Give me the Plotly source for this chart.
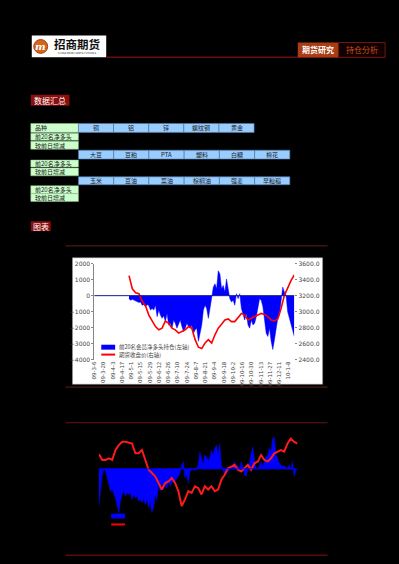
import plotly.graph_objects as go

# ---------------- data ----------------
# chart 1 (net position of top-20 members, left axis; price, right axis)
ticks1 = ["09-3-6", "09-3-20", "09-4-3", "09-4-17", "09-5-1", "09-5-15", "09-5-29",
          "09-6-12", "09-6-26", "09-7-10", "09-7-24", "09-8-7", "09-8-21", "09-9-4",
          "09-9-18", "09-10-2", "09-10-16", "09-10-30", "09-11-13", "09-11-27",
          "09-12-11", "10-1-8"]
net1 = [-185, -288, -226, -288, -350, -391, -432, -391, -597, -556, -700, -556, -638, -905,
        -802, -905, -597, -1317, -905, -1214, -1420, -1255, -1626, -1111, -1831, -1728,
        -2037, -1523, -1728, -2037, -1831, -1523, -1934, -2243, -2037, -1728, -1934, -2037,
        -1872, -2346, -2140, -2037, -2860, -2346, -1831, -905, -597, -802, -1420, -802,
        -185, 535, 741, 432, 1564, 1358, 432, 638, 226, 1049, 432, -185, -391, -288, -597,
        123, -185, 123, -802, -1214, -1523, -1111, -1831, -2037, -1523, -1831, -1728,
        -1317, -597, -185, -288, -700, -1523, -2346, -2551, -2037, -2860, -3374, -2757,
        -1934, -1420, -1214, -391, 535, 226, 21, -1008, -1420, -1831, -2243, -2551]
price1 = [3451, 3286, 3237, 3225, 3130, 3072, 2957, 2875, 2813, 2772, 2793, 2883, 2854,
          2793, 2772, 2731, 2751, 2772, 2813, 2793, 2649, 2554, 2537, 2607, 2649, 2607,
          2710, 2793, 2842, 2895, 2908, 2875, 2875, 2924, 2978, 2957, 2895, 2916, 2937,
          2957, 2978, 2965, 2937, 2895, 2883, 2908, 3040, 3204, 3307, 3389, 3459]

# chart 2
net2 = [-2775, -1302, -442, 0, -196, -688, -1302, -1670, -1424, -1916, -2161, -2652, -3266,
        -2407, -1916, -1670, -2038, -1793, -1916, -1793, -2284, -1916, -2161, -2038, -2407,
        -2284, -2530, -2161, -2652, -2284, -2898, -2407, -3266, -2898, -1916, -2284, -1179,
        -1670, -1056, -1547, -1179, -1424, -933, -1302, -1056, -810, -933, -688, -565, -319,
        295, 540, -688, -442, -1056, -196, -74, 49, -147, 98, 295, 1277, 786, 295, 1032, 909,
        663, 786, 1400, 1032, 1523, 1768, 1032, 1891, 295, -74, -442, -319, -196, -74, 98,
        295, 540, 172, 295, -74, 540, 172, -442, -565, 49, 418, 1154, 1646, 663, 49, -74,
        295, 540, 98, 663, 909, 1032, 1523, 1277, 2260, 2382, 1032, 786, 418, 295, 172, 246,
        98, 49, 295, -74, 540, -565, -196]
price2 = [3453, 3333, 3333, 3369, 3333, 3544, 3649, 3719, 3719, 3705, 3684, 3474, 3474,
          3544, 3333, 3123, 3053, 2983, 2842, 2702, 2842, 2877, 2947, 2842, 2667, 2351,
          2491, 2667, 2632, 2772, 2737, 2597, 2772, 2702, 2772, 2667, 2702, 2912, 3018,
          3158, 3193, 3228, 3123, 3088, 3158, 3228, 3123, 3263, 3298, 3439, 3333, 3298,
          3369, 3474, 3509, 3544, 3509, 3684, 3790, 3719, 3684]

legend_net = "前20名会员净多头持仓(左轴)"
legend_price = "期货收盘价(右轴)"

row_labels = ["品种", "前20名净多头", "较前日增减"]
group1 = ["铜", "铝", "锌", "螺纹钢", "黄金"]
group2 = ["大豆", "豆粕", "PTA", "塑料", "白糖", "棉花"]
group3 = ["玉米", "豆油", "菜油", "棕榈油", "强麦", "早籼稻"]

# ---------------- helpers ----------------
W, H = 399, 564
FONT = "Noto Sans CJK SC"
shapes, annos = [], []


def fx(x):
    return x / W


def fy(y):
    return 1 - y / H


def rect(x0, y0, x1, y1, fill, line=None, lw=0, layer="below"):
    shapes.append(dict(type="rect", xref="paper", yref="paper",
                       x0=fx(x0), x1=fx(x1), y0=fy(y1), y1=fy(y0),
                       fillcolor=fill, line=dict(color=line or fill, width=lw), layer=layer))


def hline(x0, x1, y, color, lw=1, layer="below"):
    shapes.append(dict(type="line", xref="paper", yref="paper",
                       x0=fx(x0), x1=fx(x1), y0=fy(y), y1=fy(y),
                       line=dict(color=color, width=lw), layer=layer))


def text(x, y, s, size, color, xanchor="center", bold=False, family=FONT):
    if bold:
        s = "<b>" + s + "</b>"
    annos.append(dict(x=fx(x), y=fy(y), xref="paper", yref="paper", text=s,
                      showarrow=False, xanchor=xanchor, yanchor="middle",
                      font=dict(size=size, color=color, family=family)))


# ---------------- header ----------------
rect(29, 32, 104, 54, "#ffffff")
shapes.append(dict(type="circle", xref="paper", yref="paper", x0=fx(31), x1=fx(45),
                   y0=fy(50), y1=fy(36), fillcolor="#d2661c", line=dict(color="#a8400c", width=1)))
text(38, 43, "<i>m</i>", 10, "#ffffff", bold=True, family="DejaVu Serif")
text(75, 40.5, "招商期货", 11.5, "#111111", bold=True)
text(75, 50.5, "CHINA MERCHANTS FUTURES", 2.6, "#333333", family="DejaVu Sans")
hline(104, 385, 54, "#6a0e0e", 1.5)
rect(297, 39, 338, 54, "#a83c14")
rect(338, 39, 385, 54, "#120000", "#6a1a10", 1)
text(317.5, 46.5, "期货研究", 8, "#ffffff", bold=True)
text(361.5, 46.5, "持仓分析", 8, "#c8501e")

# ---------------- data summary table ----------------
rect(28, 92, 67, 103, "#8b0f0f")
text(47.5, 97.5, "数据汇总", 8, "#ffffff")

green = "#ccffcc"
blue = "#99ccff"
rows_y = {"A": (121, 130), "B": (131, 138), "C": (139, 147), "D": (148, 157),
          "E": (158, 165), "F": (166, 174), "G": (175, 183), "H": (184, 192), "I": (192, 200)}


def green_cell(row, label):
    y0, y1 = rows_y[row]
    rect(28, y0, 76, y1, green, "#8fbf8f", 0.5)
    text(30, (y0 + y1) / 2, label, 6, "#222222", xanchor="left")


def blue_row(row, names, x_end):
    y0, y1 = rows_y[row]
    n = len(names)
    w = (x_end - 76) / n
    for k, nm in enumerate(names):
        rect(76 + k * w, y0, 76 + (k + 1) * w, y1, blue, "#4f78a8", 0.6)
        text(76 + (k + 0.5) * w, (y0 + y1) / 2, nm, 6, "#222222")


green_cell("A", row_labels[0])
blue_row("A", group1, 253)
green_cell("B", row_labels[1])
green_cell("C", row_labels[2])
blue_row("D", group2, 289)
green_cell("E", row_labels[1])
green_cell("F", row_labels[2])
blue_row("G", group3, 289)
green_cell("H", row_labels[1])
green_cell("I", row_labels[2])

# ---------------- charts section ----------------
rect(28, 220, 48, 230, "#8b0f0f")
text(38, 225, "图表", 8, "#ffffff")
hline(63, 327, 245, "#4a1a10", 1.2)
rect(70, 257, 322, 385, "#ffffff", "#999999", 0.5)
hline(63, 327, 388, "#4a1a10", 1.2)
hline(63, 327, 424, "#6a1010", 1.2)
hline(63, 327, 558, "#6a1010", 1.2)

# zero lines
shapes.append(dict(type="line", xref="paper", yref="y", x0=fx(92), x1=fx(293.5), y0=0, y1=0,
                   line=dict(color="#1a1a8c", width=1), layer="above"))
shapes.append(dict(type="line", xref="paper", yref="y3", x0=fx(96.7), x1=fx(296.7), y0=0, y1=0,
                   line=dict(color="#0000ff", width=1), layer="above"))

# manual legends
rect(99, 345, 113, 350, "#0000ff", layer="above")
hline(99, 113, 355, "#ff0000", 2, layer="above")
text(115, 347.5, legend_net, 5.5, "#444444", xanchor="left")
text(115, 355, legend_price, 5.5, "#444444", xanchor="left")
rect(109, 516, 123, 521, "#0000ff", layer="above")
hline(109, 123, 527, "#ff0000", 2, layer="above")

# ---------------- traces ----------------
fig = go.Figure()
fig.add_trace(go.Scatter(x=list(range(len(net1))), y=net1, mode="lines", fill="tozeroy",
                         fillcolor="#0000ff", line=dict(color="#0000ff", width=0.5),
                         name=legend_net, xaxis="x", yaxis="y", showlegend=False))
fig.add_trace(go.Scatter(x=list(range(0, 2 * len(price1), 2)), y=price1, mode="lines",
                         line=dict(color="#ff0000", width=1.6), name=legend_price,
                         xaxis="x", yaxis="y2", showlegend=False))
fig.add_trace(go.Scatter(x=list(range(len(net2))), y=net2, mode="lines", fill="tozeroy",
                         fillcolor="#0000ff", line=dict(color="#0000ff", width=0.5),
                         name=legend_net, xaxis="x2", yaxis="y3", showlegend=False))
fig.add_trace(go.Scatter(x=list(range(0, 2 * len(price2), 2)), y=price2, mode="lines",
                         line=dict(color="#ff1a1a", width=2), name=legend_price,
                         xaxis="x2", yaxis="y4", showlegend=False))

tick0, dtick = -21, 5.6
tickvals1 = [tick0 + k * dtick for k in range(len(ticks1))]
axfont = dict(size=6, color="#444444", family="DejaVu Sans")

fig.update_layout(
    width=W, height=H, margin=dict(l=0, r=0, t=0, b=0),
    paper_bgcolor="#000000", plot_bgcolor="rgba(0,0,0,0)",
    font=dict(family=FONT),
    xaxis=dict(domain=[fx(92), fx(293.5)], range=[-21, 100], anchor="y",
               tickmode="array", tickvals=tickvals1, ticktext=ticks1, tickangle=-90,
               tickfont=dict(size=5.5, color="#444444", family="DejaVu Sans"),
               showgrid=False, zeroline=False, showline=False, ticks=""),
    yaxis=dict(domain=[fy(360), fy(263)], range=[-4000, 2000], dtick=1000, anchor="x",
               showgrid=False, zeroline=False, showline=True, linecolor="#888888",
               linewidth=1, ticks="outside", ticklen=2, tickcolor="#888888", tickfont=axfont),
    yaxis2=dict(overlaying="y", side="right", anchor="x", range=[2400, 3600], dtick=200,
                tickformat=".1f", showgrid=False, zeroline=False, showline=False,
                ticks="outside", ticklen=2, tickcolor="#888888", tickfont=axfont),
    xaxis2=dict(domain=[fx(96.7), fx(296.7)], range=[0, 120], anchor="y3", visible=False),
    yaxis3=dict(domain=[fy(525), fy(430)], range=[-4000, 3000], anchor="x2", visible=False),
    yaxis4=dict(overlaying="y3", side="right", anchor="x2", range=[2000, 4000], visible=False),
    shapes=shapes, annotations=annos, showlegend=False,
)

fig.write_html("out.html")
